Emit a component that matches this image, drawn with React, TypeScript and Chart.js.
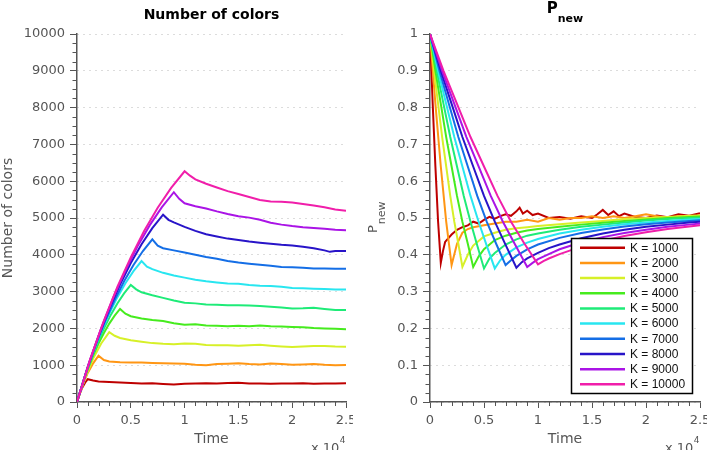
import React, { useEffect, useRef } from 'react';
import { Chart, registerables } from 'chart.js';

Chart.register(...registerables);

// ---------- data ----------
const K_VALUES = [1000, 2000, 3000, 4000, 5000, 6000, 7000, 8000, 9000, 10000];
const SERIES_LABELS = K_VALUES.map((k) => `K = ${k}`);
const SERIES_COLORS = [
  'rgb(190,0,0)',
  'rgb(255,150,20)',
  'rgb(215,240,40)',
  'rgb(70,235,30)',
  'rgb(30,235,120)',
  'rgb(40,230,240)',
  'rgb(20,110,230)',
  'rgb(40,20,200)',
  'rgb(170,20,230)',
  'rgb(240,30,170)',
];

const X_TICK_LABELS = ['0', '0.5', '1', '1.5', '2', '2.5'];
const LEFT_TITLE = 'Number of colors';
const X_TITLE = 'Time';

// Number of colors, [time, value]
const N_K1000 = [[0,0],[250,220],[500,395],[750,525],[1000,620],[1500,585],[2000,560],[3000,545],[4000,530],[5000,518],[6000,505],[7000,510],[8000,492],[9000,478],[10000,498],[11000,505],[12000,512],[13000,500],[14000,518],[15000,525],[16000,505],[17000,500],[18000,495],[19000,505],[20000,500],[21000,510],[22000,495],[23000,505],[24000,500],[25000,510]];
const N_K2000 = [[0,0],[500,440],[1000,790],[1500,1050],[2000,1260],[2500,1140],[3000,1100],[4000,1080],[5000,1075],[6000,1070],[7000,1060],[8000,1050],[9000,1045],[10000,1040],[11000,1010],[12000,1000],[13000,1030],[14000,1040],[15000,1050],[16000,1030],[17000,1020],[18000,1045],[19000,1030],[20000,1010],[21000,1020],[22000,1030],[23000,1010],[24000,1000],[25000,1005]];
const N_K3000 = [[0,0],[750,650],[1500,1180],[2250,1590],[3000,1900],[3500,1800],[4000,1740],[5000,1680],[6000,1640],[7000,1600],[8000,1580],[9000,1570],[10000,1590],[11000,1580],[12000,1550],[13000,1545],[14000,1540],[15000,1530],[16000,1540],[17000,1555],[18000,1530],[19000,1510],[20000,1495],[21000,1510],[22000,1520],[23000,1525],[24000,1505],[25000,1500]];
const N_K4000 = [[0,0],[500,476],[1000,890],[1500,1262],[2000,1586],[2500,1877],[3000,2130],[3500,2348],[4000,2530],[4500,2400],[5000,2330],[6000,2270],[7000,2230],[8000,2200],[9000,2140],[10000,2100],[11000,2110],[12000,2080],[13000,2070],[14000,2060],[15000,2070],[16000,2060],[17000,2080],[18000,2060],[19000,2050],[20000,2040],[21000,2030],[22000,2010],[23000,2000],[24000,1990],[25000,1980]];
const N_K5000 = [[0,0],[625,598],[1250,1119],[1875,1587],[2500,1994],[3125,2360],[3750,2678],[4375,2951],[5000,3180],[5500,3060],[6000,2980],[7000,2900],[8000,2830],[9000,2760],[10000,2700],[11000,2680],[12000,2650],[13000,2640],[14000,2630],[15000,2630],[16000,2620],[17000,2610],[18000,2590],[19000,2570],[20000,2540],[21000,2545],[22000,2560],[23000,2530],[24000,2500],[25000,2500]];
const N_K6000 = [[0,0],[750,720],[1500,1348],[2250,1911],[3000,2401],[3750,2842],[4500,3225],[5250,3554],[6000,3830],[6500,3680],[7000,3610],[8000,3510],[9000,3440],[10000,3380],[11000,3320],[12000,3280],[13000,3250],[14000,3220],[15000,3210],[16000,3180],[17000,3160],[18000,3150],[19000,3130],[20000,3100],[21000,3090],[22000,3080],[23000,3070],[24000,3060],[25000,3060]];
const N_K7000 = [[0,0],[875,831],[1750,1556],[2625,2206],[3500,2771],[4375,3280],[5250,3722],[6125,4102],[7000,4420],[7500,4250],[8000,4180],[9000,4120],[10000,4060],[11000,4000],[12000,3940],[13000,3890],[14000,3830],[15000,3790],[16000,3760],[17000,3730],[18000,3700],[19000,3670],[20000,3660],[21000,3650],[22000,3630],[23000,3630],[24000,3620],[25000,3620]];
const N_K8000 = [[0,0],[1000,957],[2000,1792],[3000,2540],[4000,3191],[5000,3777],[6000,4286],[7000,4724],[8000,5090],[8500,4950],[9000,4880],[10000,4760],[11000,4650],[12000,4560],[13000,4500],[14000,4440],[15000,4400],[16000,4360],[17000,4330],[18000,4300],[19000,4270],[20000,4250],[21000,4220],[22000,4180],[23000,4120],[23500,4080],[24000,4100],[25000,4100]];
const N_K9000 = [[0,0],[1125,1072],[2250,2006],[3375,2844],[4500,3574],[5625,4229],[6750,4799],[7875,5290],[9000,5700],[9500,5520],[10000,5400],[11000,5320],[12000,5260],[13000,5180],[14000,5110],[15000,5050],[16000,5010],[17000,4950],[18000,4870],[19000,4820],[20000,4780],[21000,4750],[22000,4730],[23000,4710],[24000,4680],[25000,4670]];
const N_K10000 = [[0,0],[1250,1179],[2500,2207],[3750,3129],[5000,3931],[6250,4652],[7500,5279],[8750,5819],[10000,6270],[10500,6150],[11000,6050],[12000,5930],[13000,5830],[14000,5730],[15000,5650],[16000,5570],[17000,5490],[18000,5450],[19000,5440],[20000,5420],[21000,5380],[22000,5340],[23000,5290],[24000,5230],[25000,5200]];

// P_new, [time, value]
const P_K1000 = [[0,1],[250,0.81],[500,0.64],[750,0.49],[1000,0.378],[1200,0.41],[1400,0.435],[2000,0.455],[2500,0.468],[3000,0.475],[3500,0.48],[4000,0.49],[4500,0.485],[5000,0.495],[5500,0.503],[6000,0.498],[6500,0.505],[7000,0.51],[7500,0.506],[8000,0.518],[8300,0.528],[8600,0.512],[9000,0.52],[9500,0.508],[10000,0.512],[11000,0.5],[12000,0.503],[13000,0.498],[14000,0.505],[15000,0.5],[15500,0.51],[16000,0.522],[16500,0.508],[17000,0.518],[17500,0.505],[18000,0.512],[19000,0.503],[20000,0.5],[21000,0.507],[22000,0.502],[23000,0.51],[24000,0.506],[25000,0.513]];
const P_K2000 = [[0,1],[500,0.81],[1000,0.64],[1500,0.49],[2000,0.372],[2500,0.43],[3000,0.46],[3500,0.47],[4000,0.475],[5000,0.48],[6000,0.485],[7000,0.49],[8000,0.49],[9000,0.495],[10000,0.49],[11000,0.5],[12000,0.495],[13000,0.5],[14000,0.5],[15000,0.505],[16000,0.5],[17000,0.505],[18000,0.5],[19000,0.505],[20000,0.51],[21000,0.505],[22000,0.5],[23000,0.505],[24000,0.502],[25000,0.507]];
const P_K3000 = [[0,1],[375,0.9],[750,0.81],[1125,0.72],[1500,0.64],[1875,0.56],[2250,0.49],[2625,0.43],[3000,0.367],[3500,0.4],[4000,0.425],[5000,0.45],[6000,0.46],[7000,0.468],[8000,0.472],[9000,0.475],[10000,0.478],[12000,0.483],[14000,0.488],[16000,0.492],[18000,0.497],[20000,0.5],[22000,0.503],[24000,0.506],[25000,0.507]];
const P_K4000 = [[0,1],[500,0.9],[1000,0.81],[1500,0.72],[2000,0.64],[2500,0.56],[3000,0.49],[3500,0.43],[4000,0.367],[4500,0.395],[5000,0.415],[6000,0.44],[7000,0.452],[8000,0.46],[9000,0.466],[10000,0.47],[12000,0.476],[14000,0.482],[16000,0.487],[18000,0.492],[20000,0.496],[22000,0.5],[24000,0.503],[25000,0.504]];
const P_K5000 = [[0,1],[625,0.9],[1250,0.81],[1875,0.72],[2500,0.64],[3125,0.56],[3750,0.49],[4375,0.425],[5000,0.363],[5500,0.39],[6000,0.405],[7000,0.428],[8000,0.442],[9000,0.452],[10000,0.458],[12000,0.468],[14000,0.476],[16000,0.482],[18000,0.488],[20000,0.493],[22000,0.497],[24000,0.5],[25000,0.501]];
const P_K6000 = [[0,1],[750,0.9],[1500,0.81],[2250,0.72],[3000,0.64],[3750,0.56],[4500,0.49],[5250,0.425],[6000,0.363],[6500,0.385],[7000,0.4],[8000,0.42],[9000,0.433],[10000,0.443],[12000,0.458],[14000,0.468],[16000,0.476],[18000,0.483],[20000,0.488],[22000,0.492],[24000,0.496],[25000,0.497]];
const P_K7000 = [[0,1],[875,0.9],[1750,0.81],[2625,0.72],[3500,0.64],[4375,0.56],[5250,0.49],[6125,0.43],[7000,0.372],[7500,0.385],[8000,0.397],[9000,0.415],[10000,0.428],[12000,0.446],[14000,0.459],[16000,0.469],[18000,0.477],[20000,0.483],[22000,0.488],[24000,0.492],[25000,0.494]];
const P_K8000 = [[0,1],[1000,0.9],[2000,0.81],[3000,0.72],[4000,0.64],[5000,0.56],[6000,0.49],[7000,0.427],[8000,0.365],[8500,0.38],[9000,0.39],[10000,0.405],[11000,0.418],[12000,0.428],[14000,0.445],[16000,0.458],[18000,0.468],[20000,0.476],[22000,0.482],[24000,0.488],[25000,0.49]];
const P_K9000 = [[0,1],[1125,0.9],[2250,0.81],[3375,0.72],[4500,0.64],[5625,0.56],[6750,0.49],[7875,0.428],[9000,0.367],[9500,0.378],[10000,0.388],[11000,0.402],[12000,0.415],[14000,0.434],[16000,0.448],[18000,0.459],[20000,0.468],[22000,0.476],[24000,0.482],[25000,0.485]];
const P_K10000 = [[0,1],[1250,0.9],[2500,0.81],[3750,0.72],[5000,0.64],[6250,0.56],[7500,0.49],[8750,0.43],[10000,0.374],[10500,0.383],[11000,0.39],[12000,0.402],[13000,0.412],[14000,0.422],[16000,0.438],[18000,0.451],[20000,0.461],[22000,0.47],[24000,0.477],[25000,0.48]];

const N_SERIES = [N_K1000, N_K2000, N_K3000, N_K4000, N_K5000, N_K6000, N_K7000, N_K8000, N_K9000, N_K10000];
const P_SERIES = [P_K1000, P_K2000, P_K3000, P_K4000, P_K5000, P_K6000, P_K7000, P_K8000, P_K9000, P_K10000];

// ---------- styling ----------
const FONT = '"DejaVu Sans", sans-serif';
const AXIS = '#555';
const GRID = '#b8b8b8';
const CW_L = 353;
const CW_R = 354;
const CH = 450;

const isMult = (v: number, step: number) => Math.abs(v / step - Math.round(v / step)) < 1e-6;

type Opts = {
  series: number[][][];
  yMax: number;
  yStep: number;
  yMajor: number;
  yFmt: (v: number) => string;
  yTitle: string | null;
  kind: 'left' | 'right';
};

function makeConfig(o: Opts): any {
  const datasets = o.series.map((pts, i) => ({
    label: SERIES_LABELS[i],
    data: pts.map(([x, y]) => ({ x, y })),
    borderColor: SERIES_COLORS[i],
    backgroundColor: SERIES_COLORS[i],
    borderWidth: 2,
    pointRadius: 0,
    tension: 0,
    fill: false,
    order: 10 - i,
  }));

  const decor = {
    id: 'decor',
    afterDraw(chart: any) {
      const ctx = chart.ctx;
      const ca = chart.chartArea;
      const xs = chart.scales.x;
      const ys = chart.scales.y;
      ctx.save();
      // minor ticks
      ctx.strokeStyle = AXIS;
      ctx.lineWidth = 1;
      ctx.beginPath();
      xs.ticks.forEach((t: any) => {
        if (isMult(t.value, 5000)) return;
        const px = Math.round(xs.getPixelForValue(t.value)) + 0.5;
        ctx.moveTo(px, ca.bottom);
        ctx.lineTo(px, ca.bottom + 4);
      });
      ys.ticks.forEach((t: any) => {
        if (isMult(t.value, o.yMajor)) return;
        const py = Math.round(ys.getPixelForValue(t.value)) + 0.5;
        ctx.moveTo(ca.left - 4.5, py);
        ctx.lineTo(ca.left, py);
      });
      ctx.stroke();

      const cx = (ca.left + ca.right) / 2;
      // title
      ctx.fillStyle = '#000';
      if (o.kind === 'left') {
        ctx.font = `bold 14px ${FONT}`;
        ctx.textAlign = 'center';
        ctx.textBaseline = 'middle';
        ctx.fillText(LEFT_TITLE, cx, 15);
      } else {
        ctx.textAlign = 'left';
        ctx.textBaseline = 'alphabetic';
        ctx.font = `bold 15px ${FONT}`;
        const wP = ctx.measureText('P').width;
        ctx.font = `bold 11px ${FONT}`;
        const wN = ctx.measureText('new').width;
        const sx = cx - (wP + wN) / 2;
        ctx.font = `bold 15px ${FONT}`;
        ctx.fillText('P', sx, 13);
        ctx.font = `bold 11px ${FONT}`;
        ctx.fillText('new', sx + wP, 22);

        // rotated y title P_new
        ctx.save();
        ctx.fillStyle = AXIS;
        ctx.translate(24, 233);
        ctx.rotate(-Math.PI / 2);
        ctx.font = `13px ${FONT}`;
        const wp2 = ctx.measureText('P').width;
        ctx.fillText('P', 0, 0);
        ctx.font = `11px ${FONT}`;
        ctx.fillText('new', wp2 + 1, 8);
        ctx.restore();

        // legend
        const lx = 218.5, ly = 238.5, lw = 121, lh = 155;
        ctx.fillStyle = '#fff';
        ctx.fillRect(lx, ly, lw, lh);
        ctx.strokeStyle = '#000';
        ctx.lineWidth = 1.5;
        ctx.strokeRect(lx, ly, lw, lh);
        ctx.font = `12px "Liberation Sans", Arial, sans-serif`;
        ctx.textBaseline = 'middle';
        ctx.textAlign = 'left';
        chart.data.datasets.forEach((ds: any, i: number) => {
          const ry = 247.7 + i * 15.18;
          ctx.strokeStyle = ds.borderColor;
          ctx.lineWidth = 2.5;
          ctx.beginPath();
          ctx.moveTo(227, ry);
          ctx.lineTo(272, ry);
          ctx.stroke();
          ctx.fillStyle = '#111';
          ctx.fillText(ds.label, 277, ry + 0.5);
        });
      }

      // x 10^4
      ctx.fillStyle = AXIS;
      ctx.textAlign = 'left';
      ctx.textBaseline = 'alphabetic';
      ctx.font = `13px ${FONT}`;
      const bx = ca.right - 35;
      const w10 = ctx.measureText('x 10').width;
      ctx.fillText('x 10', bx, 452);
      ctx.font = `9px ${FONT}`;
      ctx.fillText('4', bx + w10 + 0.5, 443);
      ctx.restore();
    },
  };

  return {
    type: 'line',
    data: { datasets },
    options: {
      animation: false,
      responsive: false,
      maintainAspectRatio: false,
      devicePixelRatio: 1,
      layout: { padding: { top: 34, right: 7, left: 0, bottom: 0 } },
      plugins: { legend: { display: false }, tooltip: { enabled: false }, title: { display: false } },
      scales: {
        x: {
          type: 'linear',
          min: 0,
          max: 25000,
          ticks: {
            stepSize: 1000,
            maxTicksLimit: 100,
            autoSkip: false,
            maxRotation: 0,
            minRotation: 0,
            padding: 5,
            color: AXIS,
            font: { family: FONT, size: 13 },
            callback: (v: number) => (isMult(v, 5000) ? X_TICK_LABELS[Math.round(v / 5000)] : ''),
          },
          grid: {
            drawOnChartArea: false,
            drawTicks: true,
            tickLength: 6,
            tickWidth: 1,
            tickColor: (c: any) => (c.tick && isMult(c.tick.value, 5000) ? AXIS : 'transparent'),
          },
          border: { color: AXIS, width: 1.5 },
          title: {
            display: true,
            text: X_TITLE,
            color: AXIS,
            font: { family: FONT, size: 14 },
            padding: { top: 0, bottom: 2 },
          },
          afterFit: (s: any) => {
            s.height = 48;
            s.paddingLeft = 0;
            s.paddingRight = 0;
          },
        },
        y: {
          type: 'linear',
          min: 0,
          max: o.yMax,
          ticks: {
            stepSize: o.yStep,
            maxTicksLimit: 100,
            autoSkip: false,
            padding: 5,
            color: AXIS,
            font: { family: FONT, size: 13 },
            callback: (v: number) => (isMult(v, o.yMajor) ? o.yFmt(v) : ''),
          },
          grid: {
            drawOnChartArea: true,
            color: (c: any) => (c.tick && isMult(c.tick.value, o.yMajor) ? GRID : 'transparent'),
            lineWidth: 1,
            drawTicks: true,
            tickLength: 7,
            tickWidth: 1,
            tickColor: (c: any) => (c.tick && isMult(c.tick.value, o.yMajor) ? AXIS : 'transparent'),
            tickBorderDash: [],
          },
          border: { color: AXIS, width: 1.5, dash: [1, 5] },
          title: o.yTitle
            ? {
                display: true,
                text: o.yTitle,
                color: AXIS,
                font: { family: FONT, size: 14 },
                padding: { top: 0, bottom: 0 },
              }
            : { display: false },
          afterFit: (s: any) => {
            s.width = 77;
            s.paddingTop = 0;
            s.paddingBottom = 0;
          },
        },
      },
    },
    plugins: [decor],
  };
}

export default function App() {
  const leftRef = useRef<HTMLCanvasElement>(null);
  const rightRef = useRef<HTMLCanvasElement>(null);

  useEffect(() => {
    const left = new Chart(
      leftRef.current as HTMLCanvasElement,
      makeConfig({
        series: N_SERIES,
        yMax: 10000,
        yStep: 250,
        yMajor: 1000,
        yFmt: (v) => String(Math.round(v)),
        yTitle: 'Number of colors',
        kind: 'left',
      })
    );
    const right = new Chart(
      rightRef.current as HTMLCanvasElement,
      makeConfig({
        series: P_SERIES,
        yMax: 1,
        yStep: 0.025,
        yMajor: 0.1,
        yFmt: (v) => String(Math.round(v * 10) / 10),
        yTitle: null,
        kind: 'right',
      })
    );
    return () => {
      left.destroy();
      right.destroy();
    };
  }, []);

  return (
    <div style={{ position: 'absolute', left: 0, top: 0, width: 707, height: 450, background: '#fff', overflow: 'hidden' }}>
      <canvas ref={leftRef} width={CW_L} height={CH} style={{ position: 'absolute', left: 0, top: 0, width: CW_L, height: CH }} />
      <canvas ref={rightRef} width={CW_R} height={CH} style={{ position: 'absolute', left: CW_L, top: 0, width: CW_R, height: CH }} />
    </div>
  );
}
